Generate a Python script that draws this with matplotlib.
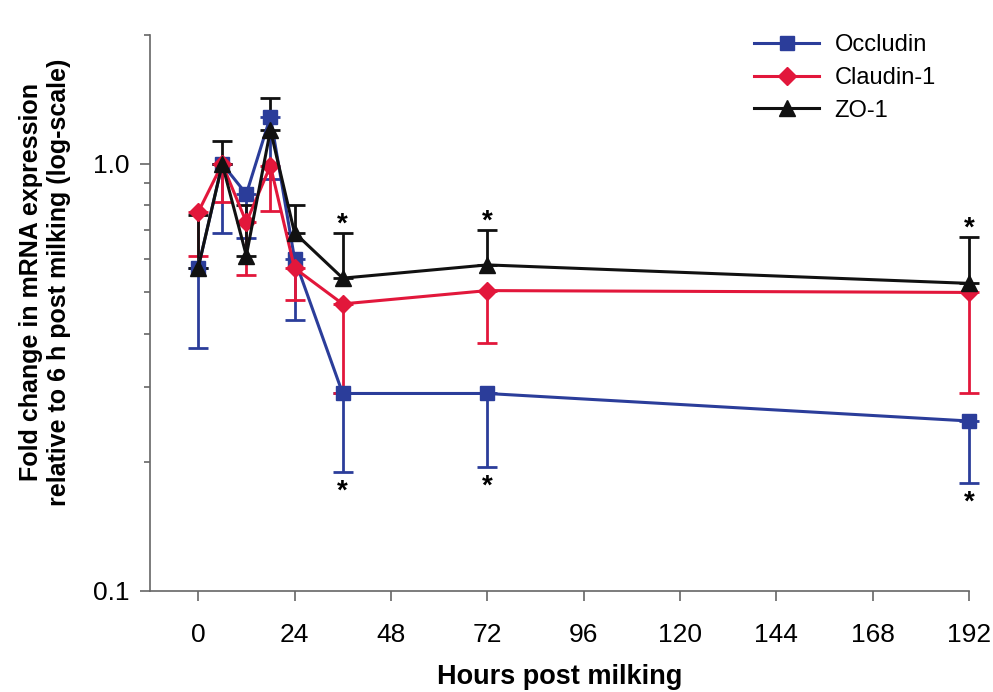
import numpy as np
import matplotlib.pyplot as plt
from matplotlib.lines import Line2D
from matplotlib.ticker import FixedLocator, NullFormatter

plt.rcParams['font.family'] = ['Liberation Sans', 'DejaVu Sans']

# time points (hours post milking)
hours = [0, 6, 12, 18, 24, 36, 72, 192]

# fold change values
occludin = [0.57, 1.00, 0.85, 1.29, 0.60, 0.29, 0.29, 0.25]
occludin_low = [0.37, 0.69, 0.67, 0.92, 0.43, 0.19, 0.195, 0.179]

claudin = [0.77, 1.00, 0.73, 0.99, 0.57, 0.47, 0.505, 0.50]
claudin_low = [0.61, 0.815, 0.55, 0.776, 0.48, 0.29, 0.38, 0.29]

zo1 = [0.57, 1.00, 0.61, 1.20, 0.69, 0.54, 0.58, 0.525]
zo1_high = [0.76, 1.13, 0.80, 1.43, 0.80, 0.69, 0.70, 0.675]

# significance markers
star_hours = [36, 72, 192]

blue = '#2b3d9a'
red = '#e2173b'
black = '#111111'

fig = plt.figure(figsize=(9.93, 6.92), dpi=100)
ax = fig.add_axes([0.151, 0.146, 0.825, 0.803])

def draw(y, lo, hi, color, marker, ms):
    y = np.array(y)
    err = [y - np.array(lo), np.array(hi) - y]
    eb = ax.errorbar(hours, y, yerr=err, color=color, marker=marker, markersize=ms,
                     linewidth=2.2, elinewidth=2, capsize=7, capthick=2)
    for art in [eb.lines[0]] + list(eb.lines[1]) + list(eb.lines[2]):
        art.set_clip_on(False)

draw(occludin, occludin_low, occludin, blue, 's', 10)
draw(claudin, claudin_low, claudin, red, 'D', 9)
draw(zo1, zo1, zo1_high, black, '^', 11)

for h in star_hours:
    i = hours.index(h)
    ax.annotate('*', (h, zo1_high[i]), xytext=(0, 6), textcoords='offset points',
                ha='center', va='center', fontsize=20, fontweight='bold', annotation_clip=False)
    ax.annotate('*', (h, occludin_low[i]), xytext=(0, -14), textcoords='offset points',
                ha='center', va='center', fontsize=20, fontweight='bold', annotation_clip=False)

ax.set_yscale('log')
ax.set_ylim(0.1, 2.0)
ax.set_xlim(-12, 192)
ax.set_xticks(range(0, 193, 24))
ax.yaxis.set_major_locator(FixedLocator([0.1, 1.0]))
ax.set_yticklabels(['0.1', '1.0'])
ax.yaxis.set_minor_locator(FixedLocator([0.2, 0.3, 0.4, 0.5, 0.6, 0.7, 0.8, 0.9, 2.0]))
ax.yaxis.set_minor_formatter(NullFormatter())

for s in ['top', 'right']:
    ax.spines[s].set_visible(False)
for s in ['left', 'bottom']:
    ax.spines[s].set_color('#666666')
    ax.spines[s].set_linewidth(1.2)

ax.tick_params(axis='both', which='major', labelsize=19, length=7, color='#666666', width=1.2)
ax.tick_params(axis='x', pad=16)
ax.tick_params(axis='y', which='minor', length=4, color='#666666', width=1.2)
ax.tick_params(axis='y', pad=8)

ax.set_xlabel('Hours post milking', fontsize=19.5, fontweight='bold', labelpad=12)
ax.set_ylabel('Fold change in mRNA expression\nrelative to 6 h post milking (log-scale)',
              fontsize=18, fontweight='bold', linespacing=1.2)
ax.yaxis.set_label_coords(-0.096, 0.556)

handles = [Line2D([], [], color=blue, marker='s', markersize=10, linewidth=2.2),
           Line2D([], [], color=red, marker='D', markersize=9, linewidth=2.2),
           Line2D([], [], color=black, marker='^', markersize=11, linewidth=2.2)]
ax.legend(handles, ['Occludin', 'Claudin-1', 'ZO-1'], loc='upper right',
          bbox_to_anchor=(0.985, 1.04), frameon=False, fontsize=17,
          handlelength=2.75, labelspacing=0.45, handletextpad=0.65)

fig.savefig('out.png', dpi=100)
